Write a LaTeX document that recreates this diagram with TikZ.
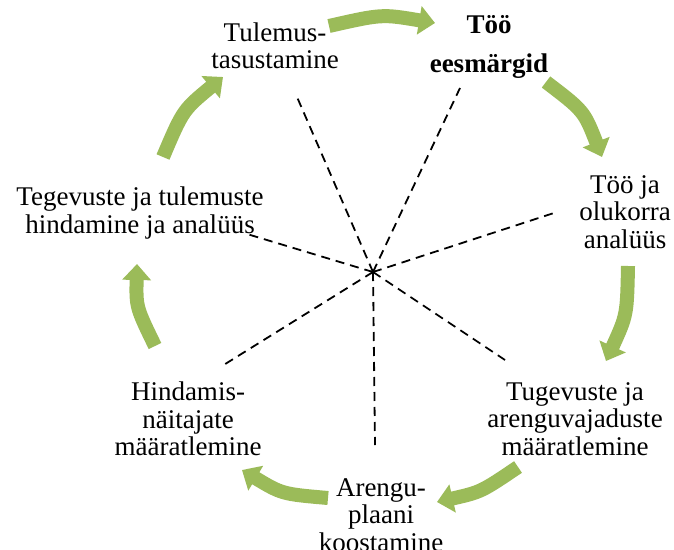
\documentclass[tikz,border=0pt]{standalone}
\usepackage{fontspec}
\setmainfont{Liberation Serif}
\usetikzlibrary{arrows.meta}
\definecolor{olivegreen}{RGB}{155,187,89}
\tikzset{
  lbl/.style={inner sep=0pt, align=center, font=\fontsize{27}{27.5}\selectfont},
  spoke/.style={draw=black, line width=1.8pt, dash pattern=on 9pt off 6pt},
  cyc/.style={draw=olivegreen, line width=14pt, -{Triangle[length=16pt,width=28pt]}}
}
\begin{document}
\begin{tikzpicture}[x=1pt,y=-1pt]
\useasboundingbox (0,0) rectangle (674,549);
% hub
\coordinate (hub) at (373,272);
% labels
\node[lbl] (tul) at (275,46) {Tulemus-\\tasustamine};
\node[lbl, font=\fontsize{27}{39}\selectfont\bfseries] (eesm) at (489,47) {Töö\\eesmärgid};
\node[lbl] (olu) at (625,212) {Töö ja\\olukorra\\analüüs};
\node[lbl] (tug) at (575,419) {Tugevuste ja\\arenguvajaduste\\määratlemine};
\node[lbl] (are) at (381,515) {Arengu-\\plaani\\koostamine};
\node[lbl] (hin) at (188,419) {Hindamis-\\näitajate\\määratlemine};
\node[lbl] (teg) at (140,213) {Tegevuste ja tulemuste\\hindamine ja analüüs};
% spoke end points
\coordinate (s1) at (297,97);
\coordinate (s2) at (460,88);
\coordinate (s3) at (557,212);
\coordinate (s4) at (505,360);
\coordinate (s5) at (375,445);
\coordinate (s6) at (222,366);
\coordinate (s7) at (247,234);
\foreach \s in {s1,s2,s3,s4,s5,s6,s7} \draw[spoke] (hub) -- (\s);
% cycle arrows
\coordinate (a1) at (329,26); \coordinate (b1) at (435,23);
\coordinate (a2) at (546,82); \coordinate (b2) at (602,157);
\coordinate (a3) at (628,266); \coordinate (b3) at (606,361);
\coordinate (a4) at (518,467); \coordinate (b4) at (437,502);
\coordinate (a5) at (328,498); \coordinate (b5) at (242,470);
\coordinate (a6) at (155,346); \coordinate (b6) at (137,264);
\coordinate (a7) at (163,157); \coordinate (b7) at (223,77);
\draw[cyc] (a1) .. controls (382,14) .. (b1);
\draw[cyc] (a2) .. controls (584,111) .. (b2);
\draw[cyc] (a3) .. controls (627,315) .. (b3);
\draw[cyc] (a4) .. controls (481,492) .. (b4);
\draw[cyc] (a5) .. controls (282,494) .. (b5);
\draw[cyc] (a6) .. controls (136,307) .. (b6);
\draw[cyc] (a7) .. controls (183,110) .. (b7);
\end{tikzpicture}
\end{document}
